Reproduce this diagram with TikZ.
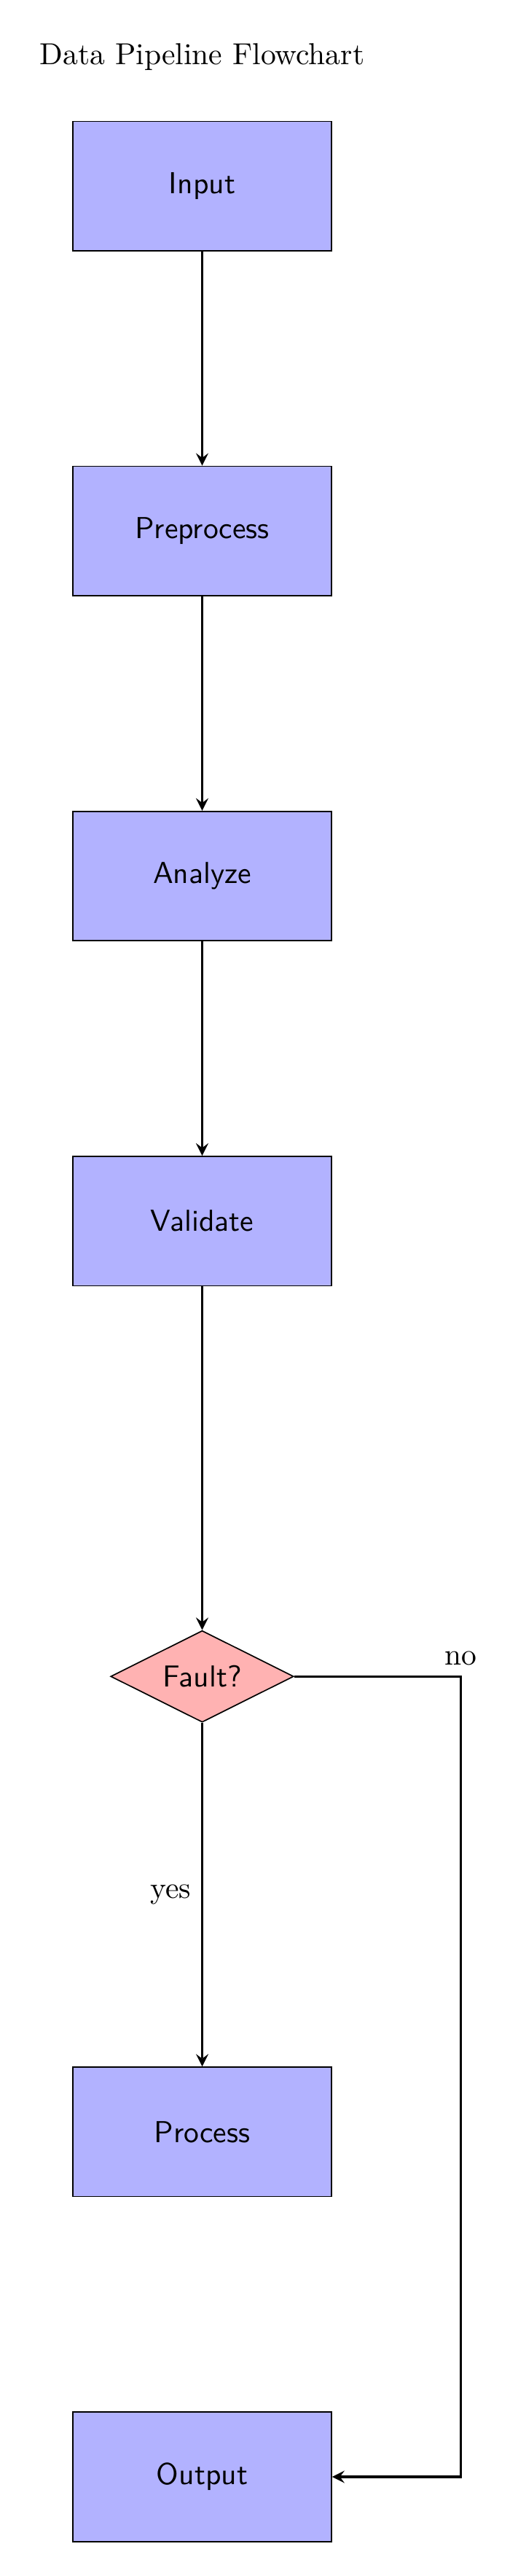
\documentclass[tikz,border=0pt]{standalone}
\usetikzlibrary{shapes.geometric}
\begin{document}
\begin{tikzpicture}[
    >=stealth,
    block/.style={draw, fill=blue!30, minimum width=3cm, minimum height=1.5cm, font=\sffamily},
    decision/.style={draw, diamond, aspect=2, fill=red!30, font=\sffamily},
    flow/.style={->, thick}
]
    \useasboundingbox (-2.346, -27.71) rectangle (3.656, 2.156);

    \node (title) at (0, 1.5) {Data Pipeline Flowchart};

    \node[block] (input) at (0, 0) {Input};
    \node[block] (preprocess) at (0, -4) {Preprocess};
    \node[block] (analyze) at (0, -8) {Analyze};
    \node[block] (validate) at (0, -12) {Validate};
    \node[decision] (fault) at (0, -17.28) {Fault?};
    \node[block] (process) at (0, -22.56) {Process};
    \node[block] (output) at (0, -26.56) {Output};
    \coordinate (nocorner) at (3, -17.28);

    \draw[flow] (input) -- (preprocess);
    \draw[flow] (preprocess) -- (analyze);
    \draw[flow] (analyze) -- (validate);
    \draw[flow] (validate) -- (fault);

    \draw[flow] (fault) -- node[left] {yes} (process);
    \draw[flow] (fault) -- (nocorner) node[above] {no} |- (output);
\end{tikzpicture}
\end{document}
